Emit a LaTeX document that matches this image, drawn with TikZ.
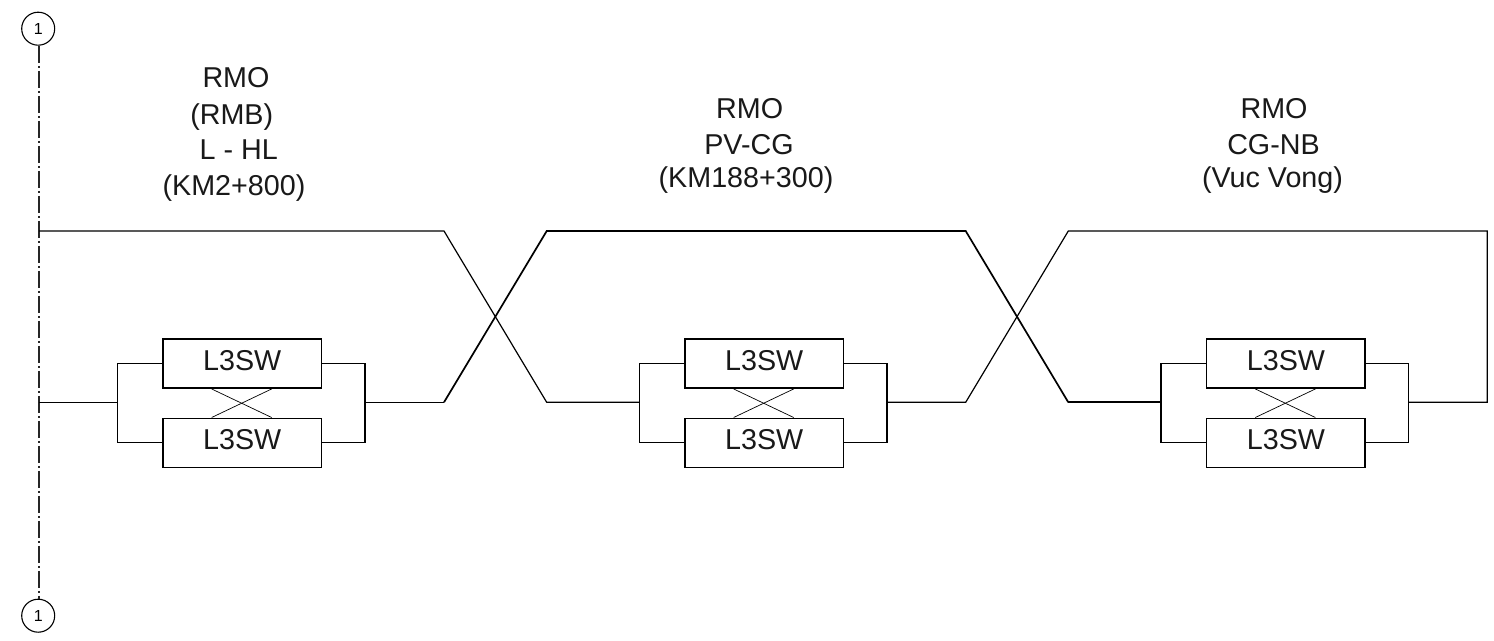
\documentclass[tikz,border=0pt]{standalone}
\usepackage{fontspec}
\setmainfont{Liberation Sans}
\begin{document}
\begin{tikzpicture}[x=1pt,y=-1pt,
  wire/.style={draw=black,line width=1.2pt,line join=miter},
  heavy/.style={draw=black,line width=1.7pt,line join=miter},
  thin wire/.style={draw=black,line width=0.7pt},
  swbox/.style={draw=black,line width=1.5pt,minimum width=158.5pt,minimum height=49.2pt,inner sep=0pt,text depth=7pt,font=\fontsize{28.7}{30}\selectfont,text=black!90},
  lab/.style={inner sep=0pt,font=\fontsize{28.7}{32}\selectfont,text=black!90,anchor=base},
  ref/.style={circle,draw=black,line width=1.1pt,minimum size=33pt,inner sep=0pt,font=\fontsize{16}{18}\selectfont},
  axis/.style={draw=black!85,line width=1.3pt,dash pattern=on 17pt off 3pt on 2pt off 3pt}]
\useasboundingbox (0,0) rectangle (1494,640);
\fill[white] (0,0) rectangle (1494,640);
% reference circles and axis
\node[ref] (r1) at (38.2,28.7) {1};
\node[ref] (r2) at (38.2,615.7) {1};
\draw[axis] ([xshift=.8pt]r1.south) -- ([xshift=.8pt]r2.north);
% switch groups
\foreach \g/\x in {a/162.25,b/684.25,c/1205.95}{
  \node[swbox,anchor=north west] (\g t) at (\x,338.25) {L3SW};
  \node[swbox,anchor=north west] (\g u) at (\x,417.5) {L3SW};
  \coordinate (\g L) at (\x-45,402.3);
  \coordinate (\g R) at (\x+202.75,402.3);
  \draw[wire] (\g t.west) -| (\g L) |- (\g u.west);
  \draw[wire] (\g t.east) -| (\g R) |- (\g u.east);
  \draw[thin wire] ([xshift=49.4pt]\g t.south west) -- ([xshift=109.4pt]\g u.north west);
  \draw[thin wire] ([xshift=109.4pt]\g t.south west) -- ([xshift=49.4pt]\g u.north west);
}
% ring coordinates
\coordinate (tl) at (39,231);
\coordinate (bl) at (39,402.3);
\coordinate (t1) at (444,231);
\coordinate (b1) at (444,402.3);
\coordinate (t2) at (546.7,231);
\coordinate (b2) at (546.7,402.3);
\coordinate (t3) at (965.7,231);
\coordinate (b3) at (965.7,402.3);
\coordinate (t4) at (1068.3,231);
\coordinate (b4) at (1068.3,402.3);
\coordinate (tr) at (1487.3,231);
\coordinate (br) at (1487.3,402.3);
% ring
\draw[wire] (tl) -- (t1) -- (b2) -- (bL);
\draw[wire] (bl) -- (aL);
\draw[wire] (aR) -- (b1);
\draw[heavy] (b1) -- (t2) -- (t3) -- (b4);
\draw[wire] (bR) -- (b3) -- (t4) -- (tr) -- (br) -- (cR);
\draw[heavy] (b4) -- (cL);
% labels
\node[lab] (l1) at (236,87.3) {RMO};
\node[lab] (l2) at (231.7,124) {(RMB)};
\node[lab] (l3) at (238.7,159.6) {L - HL};
\node[lab] (l4) at (234,195.5) {(KM2+800)};
\node[lab] (m1) at (749.7,118.3) {RMO};
\node[lab] (m2) at (749,154.3) {PV-CG};
\node[lab] (m3) at (746,187) {(KM188+300)};
\node[lab] (n1) at (1274,118.3) {RMO};
\node[lab] (n2) at (1273.5,154.3) {CG-NB};
\node[lab] (n3) at (1272.5,187) {(Vuc Vong)};
\end{tikzpicture}
\end{document}
